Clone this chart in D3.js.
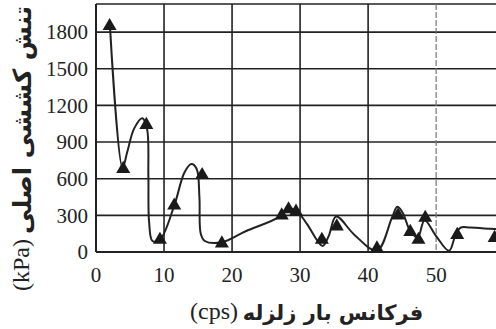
<!DOCTYPE html>
<html>
<head>
<meta charset="utf-8">
<script src="https://cdn.jsdelivr.net/npm/d3@7"></script>
<style>
  body { margin: 0; background: #fff; }
  svg { display: block; }
</style>
</head>
<body>
<svg id="chart" width="496" height="329"></svg>
<script>
// frequency (cps) / principal tensile stress (kPa)
var curveFreq = [2.0, 3.9, 4.6, 5.6, 6.8, 7.5, 7.7, 7.8, 8.3, 9.4, 11.5, 13.0, 14.0, 14.8, 15.2, 15.4, 16.0, 18.5, 22, 27, 28.2, 29.6, 31, 33.3, 34.2, 35.3, 38, 41.3, 43.5, 44.3, 45.1, 46.2, 47.3, 48.3, 50, 51.9, 52.8, 53.6, 55, 58, 59.5];
var curveStress = [1900, 690, 820, 1010, 1095, 1010, 620, 250, 90, 100, 380, 650, 720, 680, 450, 150, 90, 80, 170, 290, 360, 330, 230, 50, 130, 290, 140, 10, 280, 370, 320, 170, 120, 260, 130, 10, 130, 200, 200, 190, 185];

var markFreq = [2.0, 4.0, 7.4, 9.4, 11.5, 15.6, 18.5, 27.3, 28.3, 29.4, 33.2, 35.4, 41.3, 44.4, 46.2, 47.4, 48.4, 53.1, 58.6];
var markStress = [1850, 680, 1040, 100, 380, 630, 70, 300, 350, 330, 100, 210, 30, 300, 165, 100, 280, 140, 115];

var xTicks = [0, 10, 20, 30, 40, 50];
var yTicks = [0, 300, 600, 900, 1200, 1500, 1800];

var svg = d3.select('#chart');
var x = d3.scaleLinear().domain([0, 58.8]).range([96, 496]);
var y = d3.scaleLinear().domain([0, 2030]).range([252, 4]);

var ink = '#222';
var grid = svg.append('g');

// horizontal grid + top border
grid.selectAll('line.h')
  .data(yTicks.concat([2030]))
  .enter().append('line')
    .attr('x1', x(0)).attr('x2', 496)
    .attr('y1', function(d) { return y(d); })
    .attr('y2', function(d) { return y(d); })
    .attr('stroke', ink)
    .attr('stroke-width', function(d) { return d === 0 ? 2 : 1.6; });

// vertical grid (the 50 line is fainter / broken in the scan)
grid.selectAll('line.v')
  .data(xTicks)
  .enter().append('line')
    .attr('x1', function(d) { return x(d); })
    .attr('x2', function(d) { return x(d); })
    .attr('y1', y(2030)).attr('y2', y(0))
    .attr('stroke', function(d) { return d === 50 ? '#777' : ink; })
    .attr('stroke-width', function(d) { return d === 0 ? 2 : (d === 50 ? 1.2 : 1.6); })
    .attr('stroke-dasharray', function(d) { return d === 50 ? '6,2' : null; });

// tick labels
svg.append('g').selectAll('text')
  .data(yTicks)
  .enter().append('text')
    .attr('x', 88)
    .attr('y', function(d) { return y(d); })
    .attr('dy', '0.35em')
    .attr('text-anchor', 'end')
    .attr('font-family', '"Liberation Serif", serif')
    .attr('font-size', 21)
    .attr('fill', ink)
    .text(function(d) { return d; });

svg.append('g').selectAll('text')
  .data(xTicks)
  .enter().append('text')
    .attr('x', function(d) { return x(d); })
    .attr('y', 282)
    .attr('text-anchor', 'middle')
    .attr('font-family', '"Liberation Serif", serif')
    .attr('font-size', 21)
    .attr('fill', ink)
    .text(function(d) { return d; });

// curve
var pts = curveFreq.map(function(f, i) { return [f, curveStress[i]]; });
var line = d3.line()
  .x(function(d) { return x(d[0]); })
  .y(function(d) { return y(d[1]); })
  .curve(d3.curveCatmullRom.alpha(0.5));

svg.append('path')
  .attr('d', line(pts))
  .attr('fill', 'none')
  .attr('stroke', ink)
  .attr('stroke-width', 2);

// triangle markers
var tri = d3.symbol().type(d3.symbolTriangle).size(85);
svg.append('g').selectAll('path')
  .data(markFreq)
  .enter().append('path')
    .attr('d', tri)
    .attr('transform', function(f, i) {
      return 'translate(' + x(f) + ',' + y(markStress[i]) + ')';
    })
    .attr('fill', '#1a1a1a');

// axis titles
svg.append('text')
  .attr('transform', 'translate(31,120) rotate(-90)')
  .attr('text-anchor', 'middle')
  .attr('direction', 'rtl')
  .attr('textLength', 228)
  .attr('lengthAdjust', 'spacingAndGlyphs')
  .attr('font-family', '"DejaVu Sans", sans-serif')
  .attr('font-weight', 'bold')
  .attr('font-size', 25)
  .attr('fill', ink)
  .text('تنش کششی اصلی');

svg.append('text')
  .attr('transform', 'translate(29,265) rotate(-90)')
  .attr('text-anchor', 'middle')
  .attr('font-family', '"Liberation Serif", serif')
  .attr('font-size', 24)
  .attr('fill', ink)
  .text('(kPa)');

svg.append('text')
  .attr('x', 333).attr('y', 320)
  .attr('text-anchor', 'middle')
  .attr('direction', 'rtl')
  .attr('font-family', '"DejaVu Sans", sans-serif')
  .attr('font-weight', 'bold')
  .attr('font-size', 21)
  .attr('fill', ink)
  .text('فرکانس بار زلزله');

svg.append('text')
  .attr('x', 214).attr('y', 319)
  .attr('text-anchor', 'middle')
  .attr('font-family', '"Liberation Serif", serif')
  .attr('font-size', 24)
  .attr('fill', ink)
  .text('(cps)');
</script>
</body>
</html>
